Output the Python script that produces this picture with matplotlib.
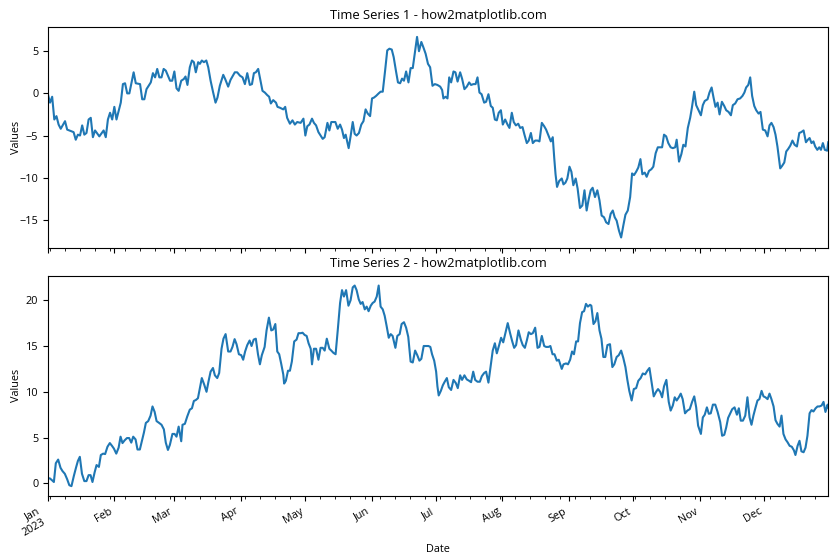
import matplotlib
matplotlib.use("Agg")
import matplotlib.pyplot as plt
import matplotlib.dates as mdates
from matplotlib.ticker import FuncFormatter
import pandas as pd

start_date = "2023-01-01"
end_date = "2023-12-31"
titles = ["Time Series 1 - how2matplotlib.com", "Time Series 2 - how2matplotlib.com"]

# Day offsets from 2023-01-01 and values
days1 = [0, 1, 2, 3, 4, 5, 6, 8, 9, 12, 13, 14, 15, 16, 17, 18, 19, 20, 21, 22, 24, 26, 27, 28, 29, 30,
         31, 32, 33, 34, 35, 36, 37, 38, 40, 41, 43, 44, 45, 46, 48, 49, 50, 51, 52, 53, 54, 55,
         57, 58, 59, 60, 61, 62.2, 63.4, 64.2, 65.1, 66.2, 67.2, 68.1, 69, 70.1, 70.9, 71.8, 72.8, 73.9,
         74.8, 75.9, 77.1, 78.2, 79.1, 80.2, 81.8, 82.7, 84.1, 85.2, 87.2, 88.3, 89.6, 90.8, 91.9, 93,
         94.2, 95.2, 96.1, 97, 98.1, 99.2, 100.1, 101.2, 102.3, 103.2, 104, 105.1, 106.4, 107.1, 108.2,
         109.8, 110.7, 111.6, 112.9, 114.1, 115.2, 116.3, 117.9,
         119.2, 120.1, 121, 122, 123.2, 124.1, 125.1, 126.2, 127.2, 128.2, 129.1, 130.4, 131.3, 132.2,
         133.2, 134.1, 135.2, 136.3, 137.2, 138.1, 138.9, 140.3, 141.2, 142.2, 143.1, 144, 145.1, 146.2,
         147.2, 148.2, 149.2, 150.3, 151.2, 152.1, 153.1, 154.3, 155.2, 156.2, 157.3, 158.3, 159.3,
         160.4, 161.3, 162.4, 163.3, 164.3, 165.2, 166.1, 167.1, 168.2, 169.2, 170.2, 171.1, 172.2,
         173.1, 174.2, 175.1, 176.2, 177.3, 178.3,
         179.4, 180.5, 181.7, 183, 183.9, 184.5, 185.5, 186.4, 187.2, 188.1, 189.2, 190.1, 191.1, 192.3,
         193.2, 194.3, 195.4, 196.5, 197.4, 198.5, 199.5, 200.4, 201.3, 202.3, 203.5, 204.4, 205.5,
         206.6, 207.5, 208.5, 209.4, 210.3, 211.3, 212.2, 213.3, 214.4, 215.3, 216.4, 217.3, 218.3,
         219.4, 220.3, 221.4, 222.3, 223.4, 224.3, 225.3, 226.2, 227.3, 228.4, 229.3, 230.4, 231.5,
         232.4, 233.5, 234.6, 235.5, 236.2, 236.8, 237.5, 238.5,
         239.7, 240.5, 241.4, 242.3, 243.3, 244.2, 245.1, 246.2, 247.1, 248.2, 249.3, 250.3, 251.3,
         252.3, 253.2, 254.1, 255.2, 256.3, 257.3, 258.3, 259.4, 260.4, 261.5, 262.5, 263.5, 264.4,
         265.3, 266.4, 267.4, 268.4, 269.4, 270.5, 271.6, 272.5, 273.4, 274.4, 275.4, 276.4, 277.3,
         278.4, 279.3, 280.4, 281.5, 282.4, 283.5, 284.5, 285.6, 286.5, 287.4, 288.4, 289.4, 290.5,
         291.5, 292.6, 293.3, 294.4, 295.5, 296.4, 297.4, 298.5, 299.6,
         300.4, 301.5, 302.4, 303.5, 304.6, 305.5, 306.4, 307.7, 308.6, 309.6, 310.5, 311.4, 312.4,
         313.3, 314.4, 315.5, 316.4, 317.5, 318.6, 319.5, 320.6, 321.7, 322.9, 324, 324.9, 325.7,
         326.7, 327.6, 328.5, 329.5, 330.4, 331.5, 332.4, 333.5, 334.6, 335.7, 336.6, 337.5, 338.5,
         339.4, 340.3, 341, 341.6, 342.5, 343.5, 344.4, 345.3, 346.3, 347.3, 348.3, 349.4, 350.5,
         351.4, 352.5, 353.6, 354.5, 355.3, 356.2, 357.1, 357.9, 358.9, 359.8, 360.6, 361.5, 362.4,
         363.5, 364]
values1 = [-0.1, -1.1, -0.4, -3.1, -2.7, -3.7, -4.2, -3.3, -4.3, -4.6, -5.5, -4.9, -5.0, -3.8, -4.9, -4.7,
           -3.1, -2.9, -5.2, -4.4, -5.1, -4.4, -5.2, -3.1, -2.3, -3.1, -1.6, -3.1, -2.1, -1.1, 1.1, 1.2,
           0.0, 0.0, 2.5, 1.2, 1.1, -0.7, -0.7, 0.5, 1.3, 2.4, 1.9, 2.9, 1.9, 1.9, 2.9, 2.7,
           1.5, 1.5, 2.6, 0.6, 0.3, 1.5, 1.7, 2.0, 1.0, 3.1, 3.9, 3.7, 2.5, 3.7, 3.5, 3.9, 3.7, 3.9,
           3.1, 1.5, 0.1, -1.1, -0.5, 0.9, 2.2, 1.7, 0.8, 1.6, 2.5, 2.5, 2.1, 1.9, 1.1, 2.4,
           1.0, 1.1, 2.4, 2.5, 2.9, 1.5, 0.3, 0.1, -0.2, -0.4, -1.2, -0.8, -1.1, -1.6, -1.7,
           -1.9, -1.6, -2.9, -3.6, -3.2, -3.7, -3.4, -3.5,
           -3.0, -5.0, -3.9, -3.7, -3.0, -3.5, -3.8, -4.6, -5.0, -5.4, -5.2, -3.5, -4.4, -3.4,
           -3.4, -3.4, -4.2, -3.7, -4.3, -5.3, -4.9, -6.5, -5.1, -3.4, -4.8, -5.0, -4.7, -3.7,
           -3.3, -1.9, -2.4, -2.7, -0.6, -0.5, -0.3, 0.0, 0.2, 0.2, 2.7, 5.1, 5.3,
           5.2, 4.3, 2.6, 1.3, 1.2, 1.75, 1.5, 2.6, 1.3, 3.0, 3.0, 4.7, 6.7,
           5.0, 6.1, 5.5, 4.7, 3.5, 3.1,
           0.9, 1.1, 1.0, 0.8, 0.4, -0.6, -0.4, -0.6, 1.9, 1.3, 2.6, 2.5, 1.4, 2.5,
           1.75, 0.5, 0.8, 1.3, 1.0, 1.1, 1.1, 1.9, 0.1, -0.1, -1.1, -1.0, -0.1,
           -1.5, -1.7, -3.1, -3.2, -2.3, -2.0, -3.7, -3.1, -3.7, -4.1, -2.3, -3.4, -3.8,
           -3.6, -4.1, -4.0, -4.9, -5.9, -5.6, -4.7, -5.9, -5.6, -5.6, -5.7, -3.5, -3.9,
           -4.3, -5.0, -5.7, -5.2, -7.7, -9.6, -11.1, -10.4,
           -10.1, -10.8, -10.6, -10.1, -8.7, -9.3, -10.9, -10.1, -11.3, -13.6, -13.3, -11.5, -13.9,
           -12.5, -11.5, -11.2, -12.3, -11.5, -12.7, -14.5, -14.7, -15.3, -15.5, -14.3, -13.9, -14.7,
           -15.1, -16.3, -17.1, -15.7, -14.4, -13.9, -12.3, -9.5, -9.7, -9.3, -8.8, -7.8, -9.6,
           -9.4, -9.9, -9.2, -9.0, -8.7, -7.1, -6.4, -6.4, -6.4, -4.9, -5.1, -5.9, -6.4,
           -6.5, -6.4, -5.5, -8.1, -7.2, -6.1, -6.3, -4.1, -2.9,
           -1.7, 0.2, -1.4, -2.0, -2.6, -1.4, -0.9, -0.7, 0.1, 0.7, -0.5, -1.6, -1.1,
           -2.5, -1.0, -1.5, -2.0, -2.2, -2.6, -1.4, -1.2, -0.7, -0.6, -0.3, 0.1, 0.7,
           1.0, 1.9, -0.3, -1.5, -2.0, -2.4, -2.2, -4.3, -4.4, -5.1, -3.8, -3.5, -4.0,
           -4.9, -6.3, -7.7, -8.9, -8.6, -8.2, -6.9, -6.6, -6.2, -5.6, -6.1, -6.3, -4.7,
           -4.6, -4.4, -5.8, -5.5, -5.3, -5.9, -5.7, -6.3, -6.7, -6.4, -6.7, -5.9, -6.7,
           -6.8, -5.8]

days2 = [0, 0.9, 1.9, 2.8, 3.7, 4.8, 5.9, 6.8, 7.9, 9, 10, 11, 12.1, 13.1, 14, 14.9, 15.9, 17, 18, 19,
         19.9, 20.8, 21.8, 22.7, 23.8, 24.7, 25.8, 26.7, 27.8, 28.9, 29.9, 30.8, 31.9, 33, 33.9, 34.8,
         35.8, 36.9, 37.9, 38.9, 39.8, 40.9, 41.8, 42.9, 43.9, 44.8, 45.7, 46.8, 47.9, 48.8, 49.8,
         50.7, 51.9, 53, 54.1, 55, 56, 56.9,
         58.1, 59.1, 60, 61, 62.2, 62.8, 63.9, 65, 66.2, 67.2, 68.1, 69, 70, 70.9, 71.8, 72.9, 74, 74.9,
         75.9, 77, 77.9, 79, 79.9, 81, 81.9, 82.9, 84.1, 85.2, 86.1, 87.1, 88, 89.1, 90.2, 91.1, 92, 93,
         94.1, 95, 96, 97, 98, 98.9, 99.8, 101.1, 102, 103.1, 104.2, 105.1, 106.1, 107, 107.9, 108.8,
         109.8, 110.2, 111, 112, 112.9, 113.8, 114.9, 116, 116.9, 118,
         118.8, 119.8, 120.7, 121.6, 122.6, 123.2, 124.1, 125.1, 126.2, 127.2, 128.2, 129.1, 130.1,
         131.3, 132.2, 133.2, 134.2, 135.2, 136.3, 137.2, 138.1, 139.1, 140.2, 141.2, 142.2, 143.1,
         144, 145, 145.9, 146.8, 147.8, 148.7, 149.6, 150.6, 151.5, 152.4, 153.4, 154.3, 155.2, 156.2,
         157.1, 158, 159, 159.9, 160.8, 162.1, 163, 164.1, 165, 166.1, 167.1, 168.1, 169.2, 170.2,
         171.3, 172.3, 173.3, 174.2, 175.3, 176.4, 177.5, 178.4,
         179.2, 180.2, 181.1, 181.7, 182.3, 183.3, 184.2, 185.1, 186.1, 187, 188.1, 189.2, 190.3,
         191.2, 192.3, 193.2, 194.3, 195.4, 196.5, 197.4, 198.4, 199.3, 200.4, 201.5, 202.4, 203.5,
         204.4, 205.5, 206.6, 207.5, 208.5, 209.4, 210.5, 211.4, 212.4, 213.4, 214.5, 215.6, 216.6,
         217.5, 218.4, 219.5, 220.6, 221.5, 222.5, 223.4, 224.3, 225.3, 226.2, 227.3, 228.4, 229.3,
         230.4, 231.5, 232.4, 233.5, 234.4, 235.4, 236.3, 237.4, 238.3,
         239.7, 240.5, 241.7, 242.6, 243.6, 244.5, 245.4, 246.4, 247.3, 248.2, 249.2, 250.1, 251,
         251.9, 252.9, 253.5, 254.5, 255.4, 256.3, 257.3, 258.2, 259.1, 260, 261, 262.2, 263.3, 264.2,
         265.3, 266.3, 267.4, 268.4, 269.4, 270.3, 271.2, 272.3, 273.3, 274.4, 275.4, 276.5, 277.5,
         278.6, 279.6, 280.6, 281.7, 282.6, 283.7, 284.6, 285.6, 286.5, 287.4, 288.5, 289.6, 290.5,
         291.5, 292.4, 293.3, 294.3, 295.2, 296.1, 297.2, 298.3, 299.4,
         300.5, 301.5, 302.4, 303.3, 304.6, 305.5, 306.4, 307.4, 308.3, 309.2, 310.2, 311.3, 312.4,
         313.6, 314.5, 315.5, 316.4, 317.3, 318.3, 319.2, 320.3, 321.4, 322.3, 323.2, 324.2, 325.3,
         326.3, 327.3, 328.2, 329.1, 330.1, 331, 331.9, 332.9, 333.8, 334.7, 335.7, 336.6, 337.5,
         338.5, 339.4, 340.3, 341.3, 342.2, 343.1, 344.1, 345, 346, 347, 348, 348.7, 349.7, 350.6,
         351.5, 352.5, 353.4, 354.3, 355.3, 356.2, 357.1, 358.1, 359, 359.9, 360.9, 361.8, 362.7,
         363.7, 364]
values2 = [0.55, 0.55, 0.35, 0.15, 2.2, 2.6, 1.7, 1.35, 1.05, 0.45, -0.2, -0.3, 0.8, 1.7, 2.45, 2.9, 1.05,
           0.25, 0.25, 0.9, 0.9, 0.15, 1.2, 2.0, 1.8, 3.1, 3.25, 3.2, 4.0, 4.4, 4.1, 3.8, 3.25, 3.9, 5.1,
           4.4, 4.7, 4.95, 4.95, 4.45, 5.1, 4.8, 3.7, 3.7, 4.65, 5.55, 6.6, 6.8, 7.4, 8.4, 7.8,
           6.8, 6.6, 6.4, 5.9, 4.45, 3.65, 4.2,
           5.4, 5.4, 5.1, 6.2, 4.6, 6.4, 6.5, 7.3, 8.05, 8.2, 9.0, 9.1, 9.3, 10.4, 11.5, 10.8, 10.0, 11.1,
           12.2, 12.6, 11.8, 11.5, 12.05, 14.7, 15.8, 16.3, 14.4, 14.4, 14.9, 15.75, 15.2, 14.1, 14.0,
           13.5, 14.4, 15.1, 15.6, 15.0, 15.7, 15.8, 14.1, 13.0, 14.0, 14.9, 16.7, 18.1, 16.7, 16.8,
           17.4, 14.4, 14.1, 13.1, 11.9, 10.9, 11.2, 12.3, 12.3, 13.3, 15.5, 15.7, 16.4, 16.4,
           16.45, 16.2, 16.1, 15.3, 14.7, 13.0, 14.7, 14.7, 13.5, 14.8, 14.8, 14.5, 15.8,
           14.7, 14.5, 14.25, 14.1, 16.7, 19.7, 21.1, 20.4, 21.1, 19.4, 20.0, 21.4, 21.6,
           21.1, 20.1, 19.6, 19.8, 19.0, 19.3, 18.8, 19.4, 19.7, 19.85, 20.4, 21.6, 19.3, 19.0,
           18.3, 17.2, 15.9, 16.3, 16.1, 14.8, 16.1, 16.3, 17.4, 17.6, 17.0, 16.0, 13.3, 13.2,
           14.5, 14.0, 13.4, 13.6, 15.0, 15.0, 15.0, 14.9,
           14.1, 13.4, 12.2, 10.6, 9.6, 10.1, 10.7, 11.1, 11.5, 10.5, 10.2, 11.3, 10.95,
           10.4, 11.8, 11.3, 11.8, 11.35, 11.2, 11.05, 12.2, 11.3, 11.1, 11.1, 11.7, 12.05,
           12.2, 11.0, 12.9, 14.5, 15.3, 14.2, 15.1, 15.9, 15.4, 16.4, 17.5, 16.4, 15.5,
           14.8, 15.1, 16.7, 15.7, 15.1, 14.8, 15.6, 16.5, 16.3, 16.4, 17.0, 14.8, 14.9,
           16.1, 15.0, 14.9, 14.9, 15.0, 14.1, 14.1, 13.4, 13.5,
           12.5, 13.0, 13.1, 13.0, 13.5, 14.4, 14.1, 15.5, 15.5, 17.5, 18.7, 18.8, 19.6,
           19.3, 19.5, 19.4, 17.4, 17.7, 18.6, 16.7, 15.8, 13.8, 13.8, 15.1, 15.2, 12.7, 13.0,
           13.8, 14.0, 14.5, 13.7, 12.7, 11.3, 10.1, 9.05, 10.3, 10.4, 11.2, 11.5, 12.0,
           11.9, 12.3, 12.6, 10.9, 9.5, 10.0, 10.3, 10.0, 9.4, 10.6, 11.3, 8.9, 7.95,
           8.5, 9.4, 9.05, 9.4, 9.8, 9.2, 7.65, 7.95, 8.1,
           8.9, 9.5, 8.3, 6.3, 5.4, 7.2, 7.5, 8.3, 7.6, 7.65, 8.6, 8.6, 7.8,
           6.7, 5.2, 5.3, 6.1, 7.15, 7.65, 8.1, 8.3, 7.5, 8.2, 6.85, 6.85, 7.4,
           9.4, 7.2, 6.4, 7.4, 8.3, 9.05, 9.2, 10.1, 9.5, 9.4, 9.2, 9.8, 9.2,
           8.4, 6.9, 6.5, 6.2, 7.4, 5.4, 4.8, 4.5, 4.1, 4.0, 3.6, 3.1, 4.1, 4.65,
           3.5, 3.4, 3.9, 5.2, 7.65, 8.0, 7.85, 8.2, 8.4, 8.4, 8.5, 8.9, 7.8,
           8.6, 8.3]

assert len(days1) == len(values1), ("series1", len(days1), len(values1))
assert len(days2) == len(values2), ("series2", len(days2), len(values2))

series_days = [days1, days2]
series_values = [values1, values2]

plt.rcParams["font.family"] = ["Open Sans", "DejaVu Sans"]

fig, axes = plt.subplots(2, 1, figsize=(8.4, 5.6), dpi=100, sharex=True)
fig.subplots_adjust(left=0.057, right=0.986, top=0.952, bottom=0.114, hspace=0.127)

t0 = pd.Timestamp(start_date)
for ax, d, v, title in zip(axes, series_days, series_values, titles):
    dates = t0 + pd.to_timedelta(d, unit="D")
    ax.plot(dates, v, color="#1f77b4", linewidth=1.5)
    ax.set_title(title, fontsize=9.4)
    ax.set_ylabel("Values", fontsize=7.8)
    ax.yaxis.set_label_coords(-0.033, 0.5)
    ax.tick_params(axis="both", which="major", labelsize=7.8)
    ax.margins(y=0.05)

axes[0].set_xlim(pd.Timestamp(start_date), pd.Timestamp(end_date))

def month_fmt(x, pos):
    dt = mdates.num2date(x)
    if dt.month == 1:
        return dt.strftime("%b\n%Y")
    return dt.strftime("%b")

ax2 = axes[1]
ax2.xaxis.set_major_locator(mdates.MonthLocator())
ax2.xaxis.set_major_formatter(FuncFormatter(month_fmt))
ax2.xaxis.set_minor_locator(mdates.WeekdayLocator(byweekday=mdates.MO))
ax2.set_xlabel("Date", fontsize=7.8)
for lbl in ax2.get_xticklabels():
    lbl.set_rotation(30)
    lbl.set_ha("right")
axes[0].tick_params(axis="x", which="both", labelbottom=False)

fig.savefig("out.png", dpi=100)
